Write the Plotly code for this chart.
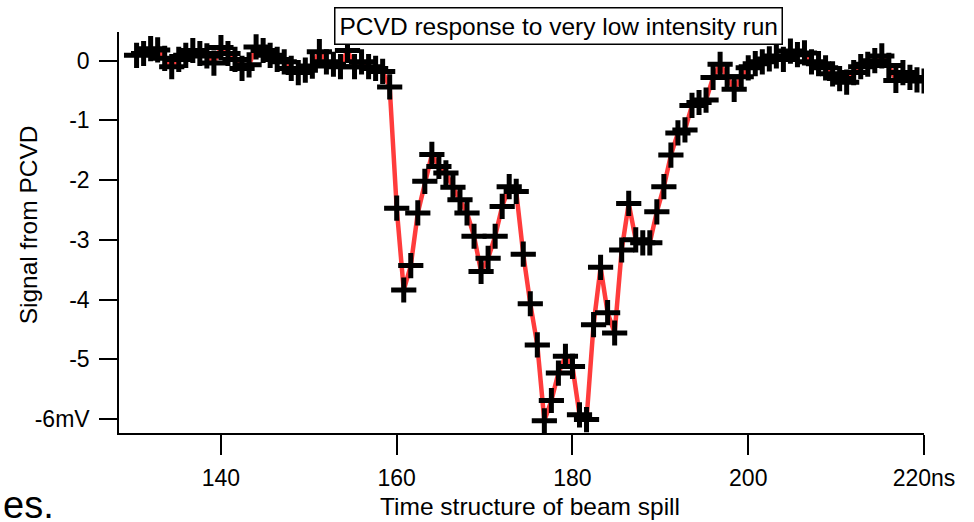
import plotly.graph_objects as go

# sample grid of the digitiser (ns)
t_start = 130.4
t_step = 0.8

signal_mv = [
    0.09, 0.12, 0.20, 0.18, 0.04, -0.10, 0.02, 0.09, 0.17, 0.12,
    0.08, -0.04, 0.22, 0.12, 0.02, -0.13, -0.07, 0.23, 0.17, 0.09,
    0.02, -0.02, -0.13, -0.20, -0.16, -0.09, 0.15, -0.02, -0.06, -0.10,
    0.17, -0.10, -0.02, -0.10, -0.13, -0.18, -0.44,
    -2.47, -3.84, -3.43, -2.55, -2.02, -1.57, -1.77, -1.88, -2.12, -2.33,
    -2.55, -2.94, -3.53, -3.31, -2.94, -2.44, -2.11, -2.19, -3.24, -4.07,
    -4.76, -6.03, -5.69, -5.23, -4.95, -5.12, -5.93, -6.01, -4.42, -3.46,
    -4.22, -4.56, -3.17, -2.39, -3.00, -3.05, -3.05, -2.53, -2.11, -1.58,
    -1.21, -1.16, -0.75, -0.70, -0.66, -0.28, -0.06, -0.27, -0.48, -0.27,
    -0.12, -0.05, -0.02, 0.03, 0.08, 0.02, 0.16, 0.10, 0.13, -0.02,
    -0.05, -0.12, -0.22, -0.30, -0.36, -0.20, -0.10, -0.06, 0.00, 0.08,
    -0.08, -0.33, -0.20, -0.28, -0.32, -0.34,
]
time_ns = [round(t_start + t_step * i, 2) for i in range(len(signal_mv))]

x_tick_vals = [140, 160, 180, 200, 220]
x_tick_text = ["140", "160", "180", "200", "220ns"]
y_tick_vals = [0, -1, -2, -3, -4, -5, -6]
y_tick_text = ["0", "-1", "-2", "-3", "-4", "-5", "-6mV"]

title_text = "PCVD response to very low intensity run"
x_title = "Time structure of beam spill"
y_title = "Signal from PCVD"

FONT = "Liberation Sans, Arial, sans-serif"

fig = go.Figure()
fig.add_trace(go.Scatter(
    x=time_ns, y=signal_mv, mode="lines+markers",
    line=dict(color="rgb(255,60,60)", width=4.5),
    marker=dict(symbol="cross-thin", size=18,
                line=dict(color="black", width=5), color="black"),
    showlegend=False,
))

fig.update_layout(
    width=974, height=522,
    margin=dict(l=119, r=50, t=32, b=89, pad=0),
    paper_bgcolor="white", plot_bgcolor="white",
    font=dict(family=FONT, size=23, color="black"),
    xaxis=dict(range=[128.4, 220], showline=True, linecolor="black", linewidth=1.5,
               ticks="outside", ticklen=20, tickwidth=1.5, tickcolor="black",
               tickvals=x_tick_vals, ticktext=x_tick_text, ticklabelstandoff=4,
               showgrid=False, zeroline=False, tickfont=dict(size=23)),
    yaxis=dict(range=[-6.234, 0.48], showline=True, linecolor="black", linewidth=1.5,
               ticks="outside", ticklen=18, tickwidth=1.5, tickcolor="black",
               tickvals=y_tick_vals, ticktext=y_tick_text, ticklabelstandoff=5,
               showgrid=False, zeroline=False, tickfont=dict(size=23)),
    annotations=[
        dict(text=title_text, xref="paper", yref="paper", x=0.546, y=1.015,
             xanchor="center", yanchor="middle", showarrow=False,
             font=dict(size=24.5), bordercolor="black", borderwidth=1.5,
             borderpad=4, bgcolor="white"),
        dict(text=x_title, xref="paper", yref="paper", x=0.510, y=-0.184,
             xanchor="center", yanchor="middle", showarrow=False, font=dict(size=24.5)),
        dict(text=y_title, xref="paper", yref="paper", x=-0.112, y=0.52,
             xanchor="center", yanchor="middle", showarrow=False, textangle=-90,
             font=dict(size=24.5)),
        dict(text="es.", xref="paper", yref="paper", x=-0.1466, y=-0.179,
             xanchor="left", yanchor="middle", showarrow=False, font=dict(size=38)),
    ],
)

fig.write_html("out.html")
